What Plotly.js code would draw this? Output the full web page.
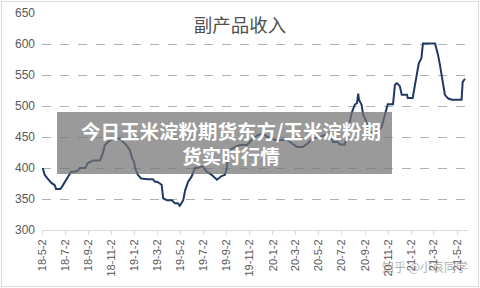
<!DOCTYPE html>
<html><head><meta charset="utf-8">
<script src="https://cdn.plot.ly/plotly-3.0.1.min.js"></script>
<style>
html,body{margin:0;padding:0;background:#fff;}
#wrap{position:relative;width:480px;height:288px;}
#chart{width:480px;height:288px;}
#frame{position:absolute;left:1px;top:1px;width:476px;height:284px;border:1px solid #d9d9d9;pointer-events:none;}
</style></head>
<body><div id="wrap"><div id="chart"></div><div id="frame"></div></div>
<script>
const dates = ["2018-05-04","2018-05-09","2018-05-18","2018-05-27","2018-06-05","2018-06-08","2018-06-19","2018-06-24","2018-07-05","2018-07-14","2018-07-18","2018-07-28","2018-08-05","2018-08-10","2018-08-24","2018-08-31","2018-09-14","2018-10-02","2018-10-10","2018-10-15","2018-10-23","2018-11-05","2018-11-24","2018-12-02","2018-12-11","2018-12-20","2018-12-26","2018-12-31","2019-01-03","2019-01-10","2019-01-19","2019-02-06","2019-02-19","2019-02-24","2019-03-02","2019-03-14","2019-03-18","2019-03-28","2019-04-10","2019-04-18","2019-04-26","2019-05-01","2019-05-10","2019-05-15","2019-05-23","2019-06-01","2019-06-10","2019-06-18","2019-06-23","2019-07-01","2019-07-11","2019-07-24","2019-08-07","2019-08-19","2019-08-28","2019-09-02","2019-09-05","2019-09-10","2019-09-24","2019-10-07","2019-10-25","2019-11-02","2019-11-10","2019-11-23","2019-12-06","2019-12-20","2019-12-30","2020-01-07","2020-02-08","2020-02-16","2020-03-05","2020-03-21","2020-04-03","2020-04-16","2020-05-05","2020-05-31","2020-06-08","2020-06-21","2020-06-27","2020-07-10","2020-07-14","2020-07-23","2020-07-28","2020-08-05","2020-08-11","2020-08-14","2020-08-16","2020-08-23","2020-08-27","2020-09-01","2020-09-09","2020-09-14","2020-09-27","2020-10-02","2020-10-15","2020-10-24","2020-10-31","2020-11-14","2020-11-19","2020-11-24","2020-12-02","2020-12-07","2020-12-21","2020-12-23","2021-01-05","2021-01-11","2021-01-16","2021-01-21","2021-01-28","2021-01-31","2021-02-01","2021-03-05","2021-03-09","2021-03-13","2021-03-18","2021-03-22","2021-03-26","2021-03-31","2021-04-04","2021-04-09","2021-04-18","2021-05-14","2021-05-17","2021-05-23"];
const income = [400,389,382,376,372,366,366,370,381,389,394,394,396,400,400,408,412,412,424,437,442,447,447,442,437,429,416,410,400,389,383,382,382,378,378,373,351,348,348,343,343,339,348,364,378,386,400,400,402,402,394,389,381,387,389,399,421,429,434,437,437,442,448,453,455,450,448,445,445,442,434,434,440,448,450,456,442,442,438,438,453,475,489,502,505,520,510,502,486,480,467,458,458,456,466,485,503,503,534,537,532,518,518,513,513,534,550,569,577,600,601,601,593,582,566,550,539,518,515,512,510,510,539,544];
const tickDates = ["2018-05-02","2018-07-02","2018-09-02","2018-11-02","2019-01-02","2019-03-02","2019-05-02","2019-07-02","2019-09-02","2019-11-02","2020-01-02","2020-03-02","2020-05-02","2020-07-02","2020-09-02","2020-11-02","2021-01-02","2021-03-02","2021-05-02"];
const tickLabels = ["18-5-2","18-7-2","18-9-2","18-11-2","19-1-2","19-3-2","19-5-2","19-7-2","19-9-2","19-11-2","20-1-2","20-3-2","20-5-2","20-7-2","20-9-2","20-11-2","21-1-2","21-3-2","21-5-2"];
const chartTitle = "副产品收入";
const overlayLine1 = "今日玉米淀粉期货东方/玉米淀粉期";
const overlayLine2 = "货实时行情";
const watermark = "知乎 @小哀同学";

const trace = {x: dates, y: income, type: "scatter", mode: "lines",
  line: {color: "#1f3864", width: 2}, hoverinfo: "skip"};

const px = v => (v - 42) / 426;
const py = v => (230 - v) / 217;

const layout = {
  width: 480, height: 288,
  margin: {l: 42, r: 12, t: 13, b: 58},
  paper_bgcolor: "#ffffff", plot_bgcolor: "#ffffff",
  showlegend: false,
  font: {family: "Liberation Sans, Arial, sans-serif", color: "#595959", size: 12},
  title: {text: chartTitle, x: 0.5, xanchor: "center", y: 1 - 25.5/288, yanchor: "middle",
    font: {family: "Noto Sans CJK SC, sans-serif", size: 18.5, color: "#505050"}},
  xaxis: {type: "date", range: ["2018-05-02", "2021-05-31"],
    tickvals: tickDates, ticktext: tickLabels, tickangle: -90,
    tickfont: {size: 11, color: "#595959"},
    showgrid: false, zeroline: false, showline: true, linecolor: "#d9d9d9", linewidth: 1,
    ticks: "outside", ticklen: 4, tickcolor: "#d9d9d9"},
  yaxis: {range: [300, 650], tickvals: [300,350,400,450,500,550,600,650],
    tickfont: {size: 12, color: "#595959"},
    showgrid: true, gridcolor: "#a9b4b4", griddash: "dash", gridwidth: 1,
    zeroline: false, showline: false, ticks: "", ticklabelstandoff: 6},
  shapes: [{type: "rect", xref: "paper", yref: "paper",
    x0: px(57), x1: px(392), y0: py(174), y1: py(112),
    fillcolor: "rgba(115,115,115,0.72)", line: {width: 0}, layer: "above"}],
  annotations: [
    {text: "<b>" + overlayLine1 + "<br>" + overlayLine2 + "</b>", xref: "paper", yref: "paper",
      x: px(231), y: py(143), xanchor: "center", yanchor: "middle", align: "center",
      showarrow: false,
      font: {family: "Noto Sans CJK SC, sans-serif", size: 19.5, color: "#ffffff", weight: 900}},
    {text: watermark, xref: "paper", yref: "paper",
      x: px(470), y: py(266), xanchor: "right", yanchor: "middle",
      showarrow: false,
      font: {family: "Noto Sans CJK SC, sans-serif", size: 12, color: "rgba(150,150,150,0.75)"}}
  ]
};
Plotly.newPlot("chart", [trace], layout, {staticPlot: true, displayModeBar: false});
</script></body></html>
